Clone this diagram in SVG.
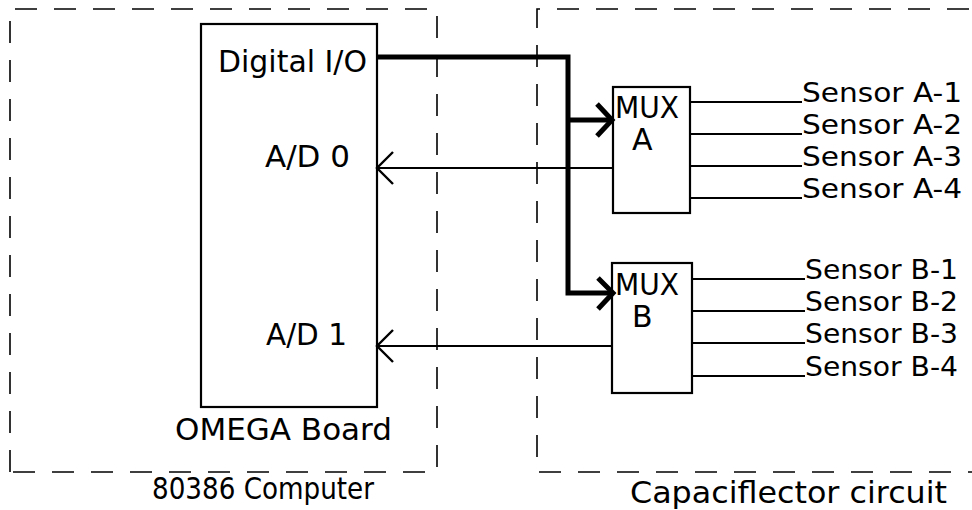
<svg xmlns="http://www.w3.org/2000/svg" width="972" height="510" viewBox="0 0 972 510">
<style>
text{font-family:"DejaVu Sans","Liberation Sans",sans-serif;font-size:30px;fill:#000}
.sen{font-size:27px}
.box{fill:none;stroke:#000;stroke-width:2.2}
.dash{fill:none;stroke:#000;stroke-width:1.6;stroke-dasharray:22 17}
.thin{fill:none;stroke:#000;stroke-width:2.2}
.heavy{fill:none;stroke:#000;stroke-width:5;stroke-linejoin:miter}
.ah{fill:none;stroke:#000;stroke-width:2.4}
.ahh{fill:none;stroke:#000;stroke-width:5}
</style>
<g id="computer">
<path class="dash" d="M10,472 L10,9 L437,9 L437,472 Z"/>
<text x="152" y="499" font-size="29" textLength="222" lengthAdjust="spacingAndGlyphs">80386 Computer</text>
</g>
<g id="capaciflector">
<path class="dash" d="M990,472 L537,472 L537,9 L990,9"/>
<text x="630" y="503" font-size="31" textLength="317" lengthAdjust="spacingAndGlyphs">Capaciflector circuit</text>
</g>
<g id="omega">
<rect class="box" x="201" y="24" width="176" height="383"/>
<text x="218" y="72" textLength="149" lengthAdjust="spacingAndGlyphs">Digital I/O</text>
<text x="265" y="167" textLength="85" lengthAdjust="spacingAndGlyphs">A/D 0</text>
<text x="266" y="345" textLength="81" lengthAdjust="spacingAndGlyphs">A/D 1</text>
<text x="175" y="440" textLength="217" lengthAdjust="spacingAndGlyphs">OMEGA Board</text>
</g>
<g id="muxA">
<rect class="box" x="613" y="87" width="77" height="126"/>
<text x="615" y="118" font-size="29" textLength="64" lengthAdjust="spacingAndGlyphs">MUX</text>
<text x="632" y="150" font-size="29">A</text>
</g>
<g id="muxB">
<rect class="box" x="612" y="263" width="80" height="130"/>
<text x="615" y="295" font-size="29" textLength="64" lengthAdjust="spacingAndGlyphs">MUX</text>
<text x="632" y="327" font-size="29">B</text>
</g>
<g id="sensorsA">
<text class="sen" x="802" y="102" textLength="160" lengthAdjust="spacingAndGlyphs">Sensor A-1</text>
<text class="sen" x="802" y="134" textLength="160" lengthAdjust="spacingAndGlyphs">Sensor A-2</text>
<text class="sen" x="802" y="166" textLength="160" lengthAdjust="spacingAndGlyphs">Sensor A-3</text>
<text class="sen" x="802" y="198" textLength="160" lengthAdjust="spacingAndGlyphs">Sensor A-4</text>
</g>
<g id="sensorsB">
<text class="sen" x="805" y="279" textLength="153" lengthAdjust="spacingAndGlyphs">Sensor B-1</text>
<text class="sen" x="805" y="311" textLength="153" lengthAdjust="spacingAndGlyphs">Sensor B-2</text>
<text class="sen" x="805" y="343" textLength="153" lengthAdjust="spacingAndGlyphs">Sensor B-3</text>
<text class="sen" x="805" y="376" textLength="153" lengthAdjust="spacingAndGlyphs">Sensor B-4</text>
</g>
<g id="connectors">
<path class="heavy" d="M377,57 L568,57 L568,293 L611,293"/>
<path class="heavy" d="M568,120 L611,120"/>
<path class="ahh" d="M597,104 L612,120 L597,136"/>
<path class="ahh" d="M598,278 L613,293 L598,309"/>
<path class="thin" d="M613,168 L378,168"/>
<path class="ah" d="M393,152 L377,168 L393,184"/>
<path class="thin" d="M612,346 L378,346"/>
<path class="ah" d="M393,330 L377,346 L393,362"/>
<path class="thin" d="M690,102 L802,102 M690,134 L802,134 M690,166 L802,166 M690,198 L802,198"/>
<path class="thin" d="M692,279 L805,279 M692,311 L805,311 M692,343 L805,343 M692,376 L805,376"/>
</g>
</svg>
